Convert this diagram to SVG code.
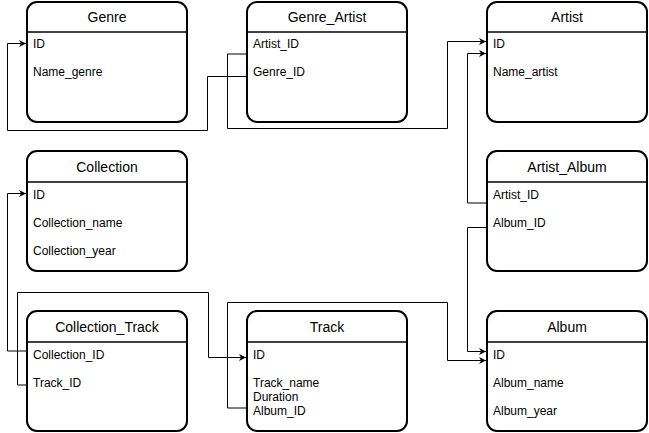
<svg xmlns="http://www.w3.org/2000/svg" width="649" height="433" viewBox="0 0 649 433">
<style>
.box{fill:#fff;stroke:#000;stroke-width:2}
.div{stroke:#000;stroke-width:1.5}
.t{font-family:"Liberation Sans",Arial,sans-serif;font-size:14px;text-anchor:middle;fill:#000}
.r{font-family:"Liberation Sans",Arial,sans-serif;font-size:12px;fill:#000}
.c{fill:none;stroke:#000;stroke-width:1}
</style>
<defs>
<marker id="arr" markerUnits="userSpaceOnUse" markerWidth="8" markerHeight="8" refX="7" refY="4" orient="auto">
<path d="M0,0.5 L7,4 L0,7.5 L2,4 Z" fill="#000"/>
</marker>
</defs>
<rect width="649" height="433" fill="#fff"/>
<g id="connectors">
<path class="c" d="M247,76.5 H207.5 V130.5 H7.5 V43.5 H26" marker-end="url(#arr)"/>
<path class="c" d="M247,54 H227.5 V128.5 H447.5 V41.5 H486" marker-end="url(#arr)"/>
<path class="c" d="M487,203 H467.5 V53.5 H486" marker-end="url(#arr)"/>
<path class="c" d="M487,227.5 H467.5 V351.5 H486" marker-end="url(#arr)"/>
<path class="c" d="M247,408 H227.5 V302.5 H447.5 V360.5 H486" marker-end="url(#arr)"/>
<path class="c" d="M27,351 H7.5 V193.5 H26" marker-end="url(#arr)"/>
<path class="c" d="M27,385 H17.5 V292.5 H208.5 V357.5 H246" marker-end="url(#arr)"/>
</g>
<g id="Genre">
<rect class="box" x="27" y="2" width="160" height="120" rx="10"/>
<line class="div" x1="27" y1="32" x2="187" y2="32"/>
<text class="t" x="107" y="22">Genre</text>
<text class="r" x="33" y="48">ID</text>
<text class="r" x="33" y="76">Name_genre</text>
</g>
<g id="Genre_Artist">
<rect class="box" x="247" y="2" width="160" height="120" rx="10"/>
<line class="div" x1="247" y1="32" x2="407" y2="32"/>
<text class="t" x="327" y="22">Genre_Artist</text>
<text class="r" x="253" y="48">Artist_ID</text>
<text class="r" x="253" y="76">Genre_ID</text>
</g>
<g id="Artist">
<rect class="box" x="487" y="2" width="160" height="120" rx="10"/>
<line class="div" x1="487" y1="32" x2="647" y2="32"/>
<text class="t" x="567" y="22">Artist</text>
<text class="r" x="493" y="48">ID</text>
<text class="r" x="493" y="76">Name_artist</text>
</g>
<g id="Collection">
<rect class="box" x="27" y="151" width="160" height="120" rx="10"/>
<line class="div" x1="27" y1="182" x2="187" y2="182"/>
<text class="t" x="107" y="172">Collection</text>
<text class="r" x="33" y="199">ID</text>
<text class="r" x="33" y="227">Collection_name</text>
<text class="r" x="33" y="255">Collection_year</text>
</g>
<g id="Artist_Album">
<rect class="box" x="487" y="151" width="160" height="120" rx="10"/>
<line class="div" x1="487" y1="182" x2="647" y2="182"/>
<text class="t" x="567" y="172">Artist_Album</text>
<text class="r" x="493" y="199">Artist_ID</text>
<text class="r" x="493" y="227">Album_ID</text>
</g>
<g id="Collection_Track">
<rect class="box" x="27" y="311" width="160" height="120" rx="10"/>
<line class="div" x1="27" y1="342" x2="187" y2="342"/>
<text class="t" x="107" y="332">Collection_Track</text>
<text class="r" x="33" y="359">Collection_ID</text>
<text class="r" x="33" y="387">Track_ID</text>
</g>
<g id="Track">
<rect class="box" x="247" y="311" width="160" height="120" rx="10"/>
<line class="div" x1="247" y1="342" x2="407" y2="342"/>
<text class="t" x="327" y="332">Track</text>
<text class="r" x="253" y="359">ID</text>
<text class="r" x="253" y="387">Track_name</text>
<text class="r" x="253" y="401">Duration</text>
<text class="r" x="253" y="415">Album_ID</text>
</g>
<g id="Album">
<rect class="box" x="487" y="311" width="160" height="120" rx="10"/>
<line class="div" x1="487" y1="342" x2="647" y2="342"/>
<text class="t" x="567" y="332">Album</text>
<text class="r" x="493" y="359">ID</text>
<text class="r" x="493" y="387">Album_name</text>
<text class="r" x="493" y="415">Album_year</text>
</g>
</svg>
